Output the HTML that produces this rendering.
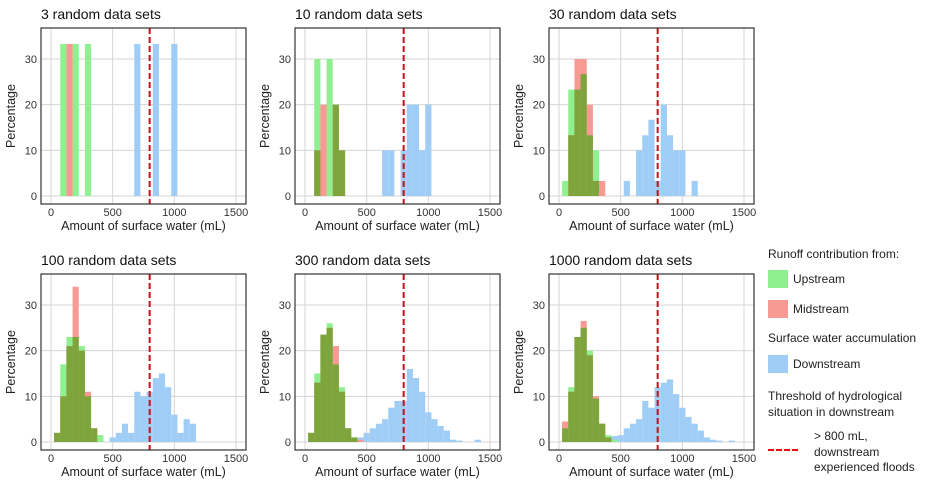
<!DOCTYPE html>
<html><head><meta charset="utf-8"><style>
body{margin:0;background:#fff;width:928px;height:492px;overflow:hidden;font-family:"Liberation Sans",Arial,sans-serif}
svg text{font-family:"Liberation Sans",Arial,sans-serif}
</style></head><body>
<svg id="chart" width="928" height="492"></svg>
<script>
const panelTitles=["3 random data sets","10 random data sets","30 random data sets","100 random data sets","300 random data sets","1000 random data sets"];
const xTicks=[0,500,1000,1500];
const yTicks=[0,10,20,30];
const threshold=800;
// bin centers (mL) with percentages, per panel
const upstream=[
 {100:33.3,200:33.3,300:33.3},
 {100:30,200:30,250:20,300:10},
 {50:3.3,100:23.3,150:23.3,200:26.7,250:13.3,300:10},
 {50:2,100:17,150:23,200:23,250:21,300:10,350:3,400:1.5},
 {50:2,100:15,150:23.5,200:26,250:17,300:12,350:3,400:1},
 {50:3,100:12,150:23,200:25,250:20,300:9.5,350:4,400:1.5,450:0.5}
];
const midstream=[
 {150:33.3},
 {100:10,150:20,250:20,300:10},
 {100:13.3,150:30,200:30,250:20,300:3.3,350:3.3},
 {50:2,100:10,150:21,200:34,250:20,300:11,350:3},
 {50:2,100:13,150:23.5,200:25,250:21,300:11,350:3,400:1,450:0.5},
 {50:4.5,100:11,150:23,200:26.5,250:19,300:10,350:4,400:1}
];
const downstream=[
 {700:33.3,850:33.3,1000:33.3},
 {650:10,700:10,800:10,850:20,900:20,950:10,1000:20},
 {550:3.3,650:10,700:13.3,750:16.7,800:3.3,850:20,900:13.3,950:10,1000:10,1100:3.3},
 {500:1,550:2,600:4,650:2,700:11,750:10,800:11,850:14,900:15,950:12,1000:6,1050:2,1100:5,1150:4},
 {400:0.5,450:1,500:2,550:3,600:4,650:5,700:7.5,750:9,800:9,850:16,900:14,950:11,1000:6.5,1050:5,1100:3.5,1150:2.5,1200:0.5,1250:0.3,1400:0.5},
 {400:1,450:1.3,500:1.5,550:3,600:4,650:5,700:9,750:7.5,800:12,850:13,900:13.7,950:10.5,1000:7.5,1050:5.5,1100:4,1150:2.5,1200:1,1250:0.5,1300:0.3,1400:0.3}
];
const binWidth=50;
const NS="http://www.w3.org/2000/svg";
const svg=document.getElementById('chart');
function mk(tag,attrs,parent){const e=document.createElementNS(NS,tag);for(const k in attrs)e.setAttribute(k,attrs[k]);(parent||svg).appendChild(e);return e;}
const lefts=[41,295,549],tops=[28,274];
const BW=205,BH=176;
panelTitles.forEach((title,i)=>{
  const L=lefts[i%3],T=tops[Math.floor(i/3)];
  const g=mk('g',{});
  
  
  const xs=v=>L+10+v*185/1500;
  const ys=v=>T+168-v*137/30;
  const t=mk('text',{x:L,y:T-9,'font-size':14,fill:'#111'},g);t.textContent=title;
  
  xTicks.forEach(v=>{mk('line',{x1:xs(v),x2:xs(v),y1:T,y2:T+BH,stroke:'#d4d4d4','stroke-width':1},g);
    const tx=mk('text',{x:xs(v),y:T+BH+12,'font-size':11,fill:'#333','text-anchor':'middle'},g);tx.textContent=v;
    });
  yTicks.forEach(v=>{mk('line',{x1:L,x2:L+BW,y1:ys(v),y2:ys(v),stroke:'#d4d4d4','stroke-width':1},g);
    const ty=mk('text',{x:L-4,y:ys(v)+4,'font-size':11,fill:'#333','text-anchor':'end'},g);ty.textContent=v;
    });
  const bar=(c,h,fill,name)=>{const r=mk('rect',{x:xs(c-binWidth/2),width:xs(c+binWidth/2)-xs(c-binWidth/2),y:ys(h),height:ys(0)-ys(h),fill:fill},g);
    };
  for(const c in downstream[i])bar(+c,downstream[i][c],'#9fcdf5','downstream-bar');
  for(const c in upstream[i])bar(+c,upstream[i][c],'#90f090','upstream-bar');
  for(const c in midstream[i])bar(+c,midstream[i][c],'#f79a94','midstream-bar');
  for(const c in midstream[i]){if(upstream[i][c])bar(+c,Math.min(upstream[i][c],midstream[i][c]),'#7ea53c','overlap-bar');}
  const th=mk('line',{x1:xs(threshold),x2:xs(threshold),y1:T,y2:T+BH,stroke:'#c8101a','stroke-width':2,'stroke-dasharray':'6,3'},g);
  
  mk('rect',{x:L,y:T,width:BW,height:BH,fill:'none',stroke:'#333','stroke-width':1.2},g);
  const xt=mk('text',{x:L+BW/2,y:T+BH+26,'font-size':12.5,fill:'#222','text-anchor':'middle'},g);xt.textContent='Amount of surface water (mL)';
  
  const yt=mk('text',{x:0,y:0,'font-size':12.5,fill:'#222','text-anchor':'middle',transform:`translate(${L-26},${T+BH/2}) rotate(-90)`},g);yt.textContent='Percentage';
  
});
</script>
<div style="position:absolute;left:768px;top:0;font-size:12px;color:#222">
 <div style="position:absolute;top:247px;white-space:nowrap">Runoff contribution from:</div>
 <div style="position:absolute;top:270px;width:20px;height:18px;background:#90f090"></div>
 <div style="position:absolute;top:272px;left:25px">Upstream</div>
 <div style="position:absolute;top:300px;width:20px;height:18px;background:#f79a94"></div>
 <div style="position:absolute;top:302px;left:25px">Midstream</div>
 <div style="position:absolute;top:331px;white-space:nowrap">Surface water accumulation</div>
 <div style="position:absolute;top:355px;width:20px;height:18px;background:#9fcdf5"></div>
 <div style="position:absolute;top:357px;left:25px">Downstream</div>
 <div style="position:absolute;top:388px;white-space:nowrap;line-height:16px">Threshold of hydrological<br>situation in downstream</div>
 <div style="position:absolute;top:449px;left:0;width:30px;border-top:2px dashed #e01010"></div>
 <div style="position:absolute;top:429px;left:46px;white-space:nowrap;line-height:15.5px">&gt; 800 mL,<br>downstream<br>experienced floods</div>
</div>
</body></html>
